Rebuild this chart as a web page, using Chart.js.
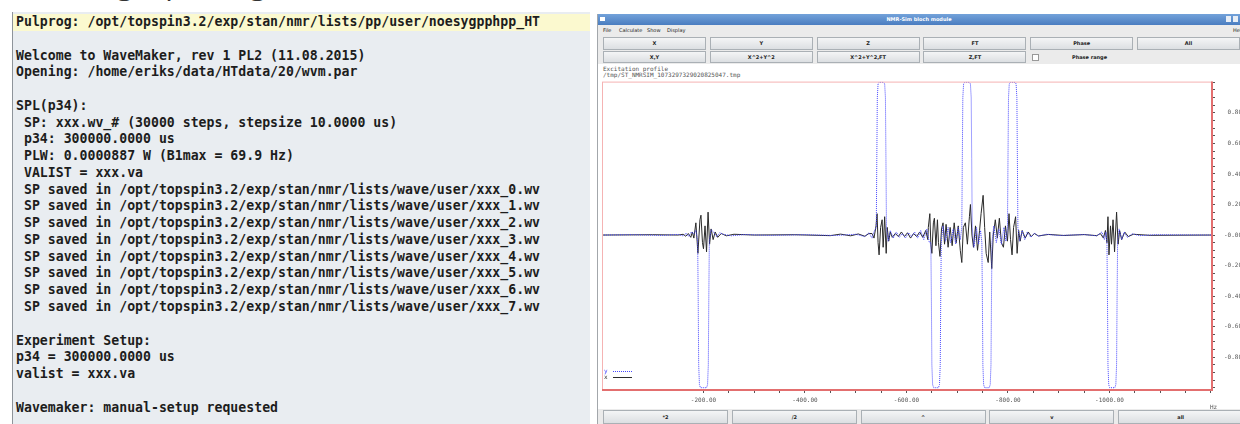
<!DOCTYPE html>
<html>
<head>
<meta charset="utf-8">
<title>WaveMaker / NMR-Sim excitation profile</title>
<script src="https://cdn.jsdelivr.net/npm/chart.js@4.4.1/dist/chart.umd.min.js"></script>
<style>
  html, body { margin: 0; padding: 0; width: 1240px; height: 424px; overflow: hidden; background: #fff; position: relative; }
  .heading { position: absolute; left: 17px; top: -32px; font: 30px/30px "Open Sans", sans-serif; color: #333; white-space: nowrap; }
  .term { position: absolute; left: 12px; top: 12px; width: 578px; height: 412px; background: #e9edf1; border-left: 1px solid #8e949a; box-sizing: border-box; }
  .term pre { margin: 0; padding-top: 2px; font: bold 13.2px/16.78px "DejaVu Sans Mono", monospace; color: #1d1d1d; }
  .term pre span { display: block; padding-left: 3px; height: 16.78px; }
  .term pre span.hl { background: #fbf9cf; }
  .win { position: absolute; left: 597px; top: 14px; width: 643px; height: 410px; background: #ebebeb; border-left: 1px solid #a3a7ab; box-sizing: border-box; }
  .titlebar { position: absolute; left: 598px; top: 14px; width: 642px; height: 11px; background: linear-gradient(#73a2da, #4a7dc0); color: #fff; font: bold 5px/11px "DejaVu Sans", sans-serif; text-align: center; }
  .ticon { position: absolute; left: 600px; top: 17px; width: 5px; height: 4px; background: #fff; }
  .tbtn { position: absolute; top: 16px; width: 5px; height: 6px; background: #e8eef6; }
  .menu { position: absolute; top: 26px; font: 5px/9px "DejaVu Sans", sans-serif; color: #222; }
  .btn { position: absolute; box-sizing: border-box; background: linear-gradient(#f4f5f6, #dcdfe2); border: 1px solid #aab0b5; font: bold 5px "DejaVu Sans", sans-serif; color: #222; text-align: center; }
  .row1 { top: 37px; height: 13px; line-height: 11px; }
  .row2 { top: 51px; height: 12px; line-height: 10px; }
  .bot { top: 410px; height: 14px; line-height: 12px; }
  .chk { position: absolute; left: 1032px; top: 54px; width: 5px; height: 5px; border: 1px solid #999; background: #fff; }
  .chklbl { position: absolute; left: 1072px; top: 51px; font: bold 5px/12px "DejaVu Sans", sans-serif; color: #222; }
  .panel { position: absolute; left: 598px; top: 64px; width: 642px; height: 345px; background: #fff; }
  .info { position: absolute; left: 603px; font: 6px/6px "DejaVu Sans Mono", monospace; color: #555; white-space: nowrap; }
  #chart { position: absolute; left: 598px; top: 76px; }
  .unit { position: absolute; left: 1210px; top: 404px; font: 6px/6px "DejaVu Sans Mono", monospace; color: #555; }
</style>
</head>
<body>
<div class="heading">Running a pulsing</div>
<div class="term"><pre id="termText"></pre></div>

<div class="win"></div>
<div class="titlebar">NMR-Sim bloch module</div>
<div class="ticon"></div>
<div class="tbtn" style="left:1226px"></div>
<div class="tbtn" style="left:1233px"></div>
<div class="menu" style="left:603px">File</div>
<div class="menu" style="left:619px">Calculate</div>
<div class="menu" style="left:647px">Show</div>
<div class="menu" style="left:667px">Display</div>
<div class="menu" style="left:1233px">Help</div>
<div id="buttons"></div>
<div class="chk"></div>
<div class="chklbl">Phase range</div>
<div class="panel"></div>
<div class="info" style="top:66px">Excitation profile</div>
<div class="info" style="top:72px">/tmp/ST_NMRSIM_1073297329020825047.tmp</div>
<canvas id="chart" width="644" height="334"></canvas>
<div class="unit">Hz</div>

<script>
const termLines = [
  'Pulprog: /opt/topspin3.2/exp/stan/nmr/lists/pp/user/noesygpphpp_HT',
  '',
  'Welcome to WaveMaker, rev 1 PL2 (11.08.2015)',
  'Opening: /home/eriks/data/HTdata/20/wvm.par',
  '',
  'SPL(p34):',
  ' SP: xxx.wv_# (30000 steps, stepsize 10.0000 us)',
  ' p34: 300000.0000 us',
  ' PLW: 0.0000887 W (B1max = 69.9 Hz)',
  ' VALIST = xxx.va',
  ' SP saved in /opt/topspin3.2/exp/stan/nmr/lists/wave/user/xxx_0.wv',
  ' SP saved in /opt/topspin3.2/exp/stan/nmr/lists/wave/user/xxx_1.wv',
  ' SP saved in /opt/topspin3.2/exp/stan/nmr/lists/wave/user/xxx_2.wv',
  ' SP saved in /opt/topspin3.2/exp/stan/nmr/lists/wave/user/xxx_3.wv',
  ' SP saved in /opt/topspin3.2/exp/stan/nmr/lists/wave/user/xxx_4.wv',
  ' SP saved in /opt/topspin3.2/exp/stan/nmr/lists/wave/user/xxx_5.wv',
  ' SP saved in /opt/topspin3.2/exp/stan/nmr/lists/wave/user/xxx_6.wv',
  ' SP saved in /opt/topspin3.2/exp/stan/nmr/lists/wave/user/xxx_7.wv',
  '',
  'Experiment Setup:',
  'p34 = 300000.0000 us',
  'valist = xxx.va',
  '',
  'Wavemaker: manual-setup requested'
];

// axis ranges and tick labels (Hz axis runs right-to-left)
const xMin = -1202, xMax = 0;
const yMin = -1.015, yMax = 1.005;
const xTickValues = [-200, -400, -600, -800, -1000];
const xTickLabels = ['-200.00', '-400.00', '-600.00', '-800.00', '-1000.00'];
const yTickValues = [0.8, 0.6, 0.4, 0.2, 0, -0.2, -0.4, -0.6, -0.8];
const yTickLabels = ['0.80', '0.60', '0.40', '0.20', '-0.00', '-0.20', '-0.40', '-0.60', '-0.80'];

// y component (blue dotted): [Hz, value]
const mySeries = [
  [0, 0], [-60, 0.002], [-120, -0.002], [-150, 0.004], [-160, -0.006], [-166, 0.012], [-171, -0.01], [-176, 0.02], [-181, 0.008], [-185, 0.03],
  [-188.5, -0.04], [-189.5, -0.4], [-190.5, -0.85], [-192, -0.98], [-194, -1.0], [-206, -1.0], [-208, -0.98], [-209.5, -0.85], [-210.5, -0.4], [-211.5, -0.04],
  [-215, 0.035], [-220, 0.02], [-226, -0.012], [-232, 0.015], [-240, 0.004], [-255, -0.005], [-280, 0.003], [-330, -0.002], [-400, 0.002], [-460, -0.003],
  [-500, 0.005], [-518, -0.01], [-526, 0.015], [-532, -0.02], [-537, 0.03],
  [-540.5, 0.05], [-541.5, 0.5], [-542.5, 0.9], [-544, 0.99], [-546, 1.0], [-555, 1.0], [-557, 0.99], [-558.5, 0.9], [-559.5, 0.5], [-560.5, 0.05],
  [-564, -0.04], [-568, 0.03], [-574, -0.02], [-580, 0.02], [-586, -0.015], [-592, 0.01], [-598, -0.02], [-604, 0.015], [-610, -0.01], [-616, 0.02],
  [-622, -0.02], [-628, 0.03], [-634, -0.03], [-640, 0.04], [-645, -0.05],
  [-648, -0.05], [-649, -0.4], [-650, -0.85], [-651.5, -0.98], [-653.5, -1.0], [-663, -1.0], [-665, -0.98], [-666.5, -0.85], [-667.5, -0.4], [-668.5, -0.05],
  [-672, 0.06], [-677, -0.04], [-682, 0.05], [-687, -0.05], [-692, 0.04], [-697, -0.06], [-702, 0.05], [-706, -0.03],
  [-709, 0.05], [-710, 0.5], [-711, 0.9], [-712.5, 0.99], [-714.5, 1.0], [-724, 1.0], [-726, 0.99], [-727.5, 0.9], [-728.5, 0.5], [-729.5, 0.05],
  [-733, -0.08], [-738, 0.05], [-742, -0.06], [-746, 0.03],
  [-748.5, -0.05], [-749.5, -0.4], [-750.5, -0.85], [-752, -0.98], [-754, -1.0], [-763, -1.0], [-765, -0.98], [-766.5, -0.85], [-767.5, -0.4], [-768.5, -0.05],
  [-772, 0.06], [-777, -0.05], [-782, 0.04], [-787, -0.06], [-792, 0.05], [-796, -0.04],
  [-799, 0.05], [-800, 0.5], [-801, 0.9], [-802.5, 0.99], [-804.5, 1.0], [-814, 1.0], [-816, 0.99], [-817.5, 0.9], [-818.5, 0.5], [-819.5, 0.05],
  [-823, -0.04], [-828, 0.03], [-833, -0.03], [-838, 0.02], [-845, -0.015], [-852, 0.012], [-860, -0.008], [-875, 0.005], [-900, -0.003], [-950, 0.003],
  [-975, -0.005], [-985, 0.02], [-990, -0.03], [-993, 0.02],
  [-995, -0.05], [-996, -0.4], [-997, -0.85], [-998.5, -0.98], [-1000.5, -1.0], [-1010.5, -1.0], [-1012.5, -0.98], [-1014, -0.85], [-1015, -0.4], [-1016, -0.05],
  [-1019, 0.04], [-1024, -0.03], [-1029, 0.02], [-1035, -0.015], [-1045, 0.008], [-1060, -0.004], [-1090, 0.002], [-1202, 0]
];

// x component (black solid): [Hz, value]
const mxSeries = [
  [0, 0], [-100, 0.002], [-150, 0], [-160, 0.005], [-165, -0.008], [-170, 0.01], [-175, -0.015], [-178, 0.02], [-181, -0.02],
  [-185, 0.08], [-189, -0.12], [-193, 0.1], [-195, 0.13], [-198, -0.05], [-200, -0.09], [-203, 0.06], [-206, -0.11], [-209, 0.15], [-212, -0.06],
  [-215, 0.04], [-219, -0.03], [-223, 0.02], [-228, -0.015], [-235, 0.01], [-245, -0.005], [-260, 0.005], [-300, 0], [-380, 0.002], [-450, -0.004],
  [-470, 0.006], [-490, -0.005], [-505, 0.007], [-518, -0.008], [-526, 0.01], [-532, 0.01],
  [-536, -0.02], [-540, 0.06], [-542, 0.14], [-544, -0.05], [-546, -0.13], [-549, 0.05], [-552, 0.1], [-554, -0.08], [-557, 0.12], [-560, -0.12],
  [-562, 0.05], [-565, -0.04], [-568, 0.02], [-572, -0.015], [-578, 0.01], [-584, -0.01], [-590, 0.02], [-596, -0.01], [-602, 0.015], [-608, -0.02],
  [-614, 0.01], [-620, -0.01], [-626, 0.02], [-632, -0.015], [-638, 0.03], [-642, -0.03],
  [-643, 0.05], [-646, 0.14], [-648, -0.06], [-650, -0.12], [-653, 0.08], [-655, 0.11], [-658, -0.07], [-661, 0.1], [-663, -0.05], [-666, -0.14],
  [-669, 0.04], [-672, 0.08], [-675, -0.06], [-678, 0.07], [-682, -0.08], [-686, 0.05], [-690, -0.07], [-694, 0.08], [-698, -0.05], [-702, 0.06],
  [-706, -0.1], [-709, -0.18], [-712, 0.05], [-716, 0.08], [-720, -0.06], [-724, 0.12], [-726, 0.2], [-729, 0], [-732, -0.08], [-736, 0.06],
  [-740, -0.1], [-744, 0.03], [-747, 0.14], [-751, 0.26], [-754, 0.05], [-757, -0.12], [-761, -0.18], [-764, 0.02], [-768, -0.22], [-771, 0],
  [-775, 0.1], [-779, -0.02], [-783, 0.11], [-787, -0.05], [-791, -0.08], [-795, 0.06], [-799, -0.04], [-802, 0.14], [-805, -0.03], [-808, -0.13],
  [-811, 0.05], [-815, 0.12], [-818, -0.12], [-821, 0.03], [-824, -0.04], [-828, 0.03], [-834, -0.02], [-840, 0.02], [-846, -0.01], [-852, 0.01],
  [-860, -0.006], [-880, 0.004], [-910, -0.003], [-950, 0.003], [-975, -0.004],
  [-982, 0.01], [-988, -0.02], [-992, 0.03], [-995, -0.05], [-997, 0.12], [-999, -0.13], [-1002, 0.06], [-1004, -0.06], [-1007, 0.1], [-1010, -0.11],
  [-1014, 0.15], [-1017, -0.06], [-1020, 0.03], [-1024, -0.03], [-1030, 0.02], [-1037, -0.01], [-1047, 0.005], [-1080, -0.002], [-1202, 0]
];

const topButtons = ['X', 'Y', 'Z', 'FT', 'Phase', 'All'];
const secondButtons = ['X,Y', 'X^2+Y^2', 'X^2+Y^2,FT', 'Z,FT'];
const bottomButtons = ['*2', '/2', '^', 'v', 'all'];

document.getElementById('termText').innerHTML = termLines
  .map((l, i) => `<span class="${i === 0 ? 'hl' : ''}">${l}</span>`).join('');

// window buttons
const btnHost = document.getElementById('buttons');
let html = '';
topButtons.forEach((b, i) => {
  html += `<div class="btn row1" style="left:${603 + i * 106.8}px;width:103px">${b}</div>`;
});
secondButtons.forEach((b, i) => {
  html += `<div class="btn row2" style="left:${603 + i * 106.8}px;width:103px">${b}</div>`;
});
bottomButtons.forEach((b, i) => {
  html += `<div class="btn bot" style="left:${603 + i * 128.8}px;width:125px">${b}</div>`;
});
btnHost.innerHTML = html;

function labelFor(v, values, labels) {
  const i = values.findIndex(t => Math.abs(t - v) < 1e-6);
  return i < 0 ? '' : labels[i];
}

// minor tick marks every 50 Hz / 0.05
const xMarks = [];
for (let v = -1200; v <= -200; v += 50) xMarks.push(v);
const yMarks = [];
for (let k = -20; k <= 20; k++) yMarks.push(k / 20);

const tickFont = { family: '"DejaVu Sans Mono", monospace', size: 6 };

const framePlugin = {
  id: 'frame',
  afterDraw(chart) {
    const { ctx, chartArea: a } = chart;
    ctx.save();
    ctx.strokeStyle = '#f5b3b3';
    ctx.lineWidth = 1;
    ctx.strokeRect(a.left + 0.5, a.top + 0.5, a.right - a.left - 1, a.bottom - a.top - 1);
    ctx.strokeStyle = '#e36f6f';
    ctx.lineWidth = 2;
    ctx.beginPath();
    ctx.moveTo(a.left, a.bottom);
    ctx.lineTo(a.right, a.bottom);
    ctx.lineTo(a.right, a.top);
    ctx.stroke();
    ctx.restore();
  }
};

const miniLegend = {
  id: 'miniLegend',
  afterDraw(chart) {
    const { ctx, chartArea: a } = chart;
    ctx.save();
    ctx.font = '6px "DejaVu Sans Mono", monospace';
    ctx.textBaseline = 'middle';
    chart.data.datasets.forEach((ds, i) => {
      const y = a.bottom - 19 + i * 6;
      ctx.fillStyle = ds.borderColor;
      ctx.fillText(ds.label, a.left + 2, y);
      ctx.strokeStyle = ds.borderColor;
      ctx.lineWidth = 1;
      ctx.setLineDash(ds.borderDash || []);
      ctx.beginPath();
      ctx.moveTo(a.left + 11, y + 0.5);
      ctx.lineTo(a.left + 30, y + 0.5);
      ctx.stroke();
    });
    ctx.restore();
  }
};

new Chart(document.getElementById('chart').getContext('2d'), {
  type: 'line',
  data: {
    datasets: [
      {
        label: 'y',
        data: mySeries.map(p => ({ x: p[0], y: p[1] })),
        borderColor: '#4646ff',
        borderWidth: 1,
        borderDash: [1, 1]
      },
      {
        label: 'x',
        data: mxSeries.map(p => ({ x: p[0], y: p[1] })),
        borderColor: '#2a2a2a',
        borderWidth: 1
      }
    ]
  },
  options: {
    responsive: false,
    animation: false,
    events: [],
    layout: { padding: { left: 4, top: 5, right: 0, bottom: 0 }, autoPadding: false },
    elements: { point: { radius: 0 }, line: { tension: 0 } },
    plugins: { legend: { display: false }, tooltip: { enabled: false } },
    scales: {
      x: {
        type: 'linear', min: xMin, max: xMax, reverse: true,
        afterFit: s => { s.height = 20; },
        afterBuildTicks: s => { s.ticks = xMarks.map(v => ({ value: v })); },
        grid: { drawOnChartArea: false, drawTicks: true, tickLength: 3, tickColor: '#555' },
        border: { display: false },
        ticks: {
          autoSkip: false, maxRotation: 0, minRotation: 0, padding: 4,
          font: tickFont, color: '#555',
          callback: v => labelFor(v, xTickValues, xTickLabels)
        }
      },
      y: {
        type: 'linear', position: 'right', min: yMin, max: yMax,
        afterFit: s => { s.width = 30; },
        afterBuildTicks: s => { s.ticks = yMarks.map(v => ({ value: v })); },
        grid: { drawOnChartArea: false, drawTicks: true, tickLength: 3, tickColor: '#555' },
        border: { display: false },
        ticks: {
          autoSkip: false, crossAlign: 'far', padding: 2,
          font: tickFont, color: '#555',
          callback: v => labelFor(v, yTickValues, yTickLabels)
        }
      }
    }
  },
  plugins: [framePlugin, miniLegend]
});
</script>
</body>
</html>
